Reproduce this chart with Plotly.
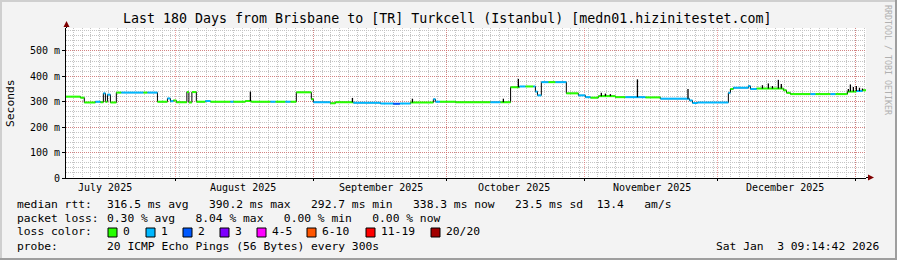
import bisect
import pandas as pd
import plotly.graph_objects as go

# ---------------- data ----------------
# step series of the median RTT (ms): start time of each level, level, loss class index
seg_time = [
    "2025-07-07 09:14", "2025-07-10 15:00", "2025-07-11 12:00", "2025-07-14 00:00",
    "2025-07-15 03:00", "2025-07-15 19:00", "2025-07-16 06:00", "2025-07-16 17:00",
    "2025-07-17 09:00", "2025-07-18 17:00", "2025-07-19 20:00", "2025-07-24 19:00",
    "2025-07-25 17:00", "2025-07-27 23:00", "2025-07-30 05:00", "2025-07-30 21:00",
    "2025-07-31 13:00", "2025-08-01 05:00", "2025-08-03 14:00", "2025-08-04 01:00",
    "2025-08-04 17:00", "2025-08-05 17:00", "2025-08-07 18:00", "2025-08-08 21:00",
    "2025-08-13 09:00", "2025-08-14 01:00", "2025-08-16 18:00", "2025-08-18 02:00",
    "2025-08-22 09:00", "2025-08-23 12:00", "2025-08-25 18:00", "2025-08-26 21:00",
    "2025-08-28 05:00", "2025-08-31 14:00", "2025-09-01 01:00", "2025-09-04 21:00",
    "2025-09-06 00:00", "2025-09-10 01:00", "2025-09-16 03:00", "2025-09-19 00:00",
    "2025-09-20 12:00", "2025-09-22 21:00", "2025-09-28 01:00", "2025-09-28 12:00",
    "2025-09-29 12:00", "2025-10-03 00:00", "2025-10-10 21:00", "2025-10-13 03:00",
    "2025-10-15 10:00", "2025-10-17 10:00", "2025-10-18 18:00", "2025-10-20 13:00",
    "2025-10-21 00:00", "2025-10-21 11:00", "2025-10-22 08:00", "2025-10-23 22:00",
    "2025-10-25 12:00", "2025-10-27 23:00", "2025-10-30 16:00", "2025-11-01 06:00",
    "2025-11-02 09:00", "2025-11-04 04:00", "2025-11-08 00:00", "2025-11-10 06:00",
    "2025-11-13 04:00", "2025-11-14 18:00", "2025-11-18 03:00", "2025-11-24 16:00",
    "2025-11-25 08:00", "2025-11-26 11:00", "2025-12-03 10:00", "2025-12-03 21:00",
    "2025-12-04 13:00", "2025-12-07 22:00", "2025-12-08 09:00", "2025-12-09 18:00",
    "2025-12-15 19:00", "2025-12-16 12:00", "2025-12-17 09:00", "2025-12-21 21:00",
    "2025-12-23 00:00", "2025-12-26 09:00", "2025-12-27 12:00", "2025-12-30 05:00",
    "2026-01-01 05:00", "2026-01-02 14:00",
]
seg_ms = [
    320, 316, 297, 300, 298, 333, 300, 328,
    297, 336, 336, 336, 336, 300, 313, 302,
    305, 298, 338, 297, 338, 300, 303, 300,
    300, 300, 303, 300, 300, 300, 300, 300,
    337, 310, 298, 294, 298, 296, 293, 292,
    293, 297, 310, 300, 300, 298, 298, 298,
    357, 360, 360, 360, 340, 325, 377, 377,
    377, 333, 325, 318, 316, 322, 318, 318,
    318, 317, 312, 305, 295, 297, 335, 350,
    355, 362, 350, 352, 345, 335, 330, 330,
    330, 330, 330, 340, 342, 345,
]
seg_loss = [
    0, 0, 0, 1, 0, 1, 0, 1,
    0, 0, 1, 0, 1, 0, 1, 1,
    0, 0, 0, 0, 0, 0, 1, 0,
    1, 0, 0, 0, 1, 0, 1, 0,
    0, 0, 1, 0, 0, 1, 1, 2,
    1, 0, 1, 1, 0, 0, 1, 0,
    0, 1, 0, 1, 1, 1, 1, 0,
    1, 0, 1, 1, 0, 0, 0, 1,
    1, 0, 1, 1, 1, 1, 1, 0,
    1, 1, 1, 0, 0, 0, 0, 1,
    0, 1, 0, 0, 1, 0,
]
end_time = "2026-01-03 09:14"

# short spikes (smoke) drawn in black
spike_time = [
    "2025-08-17 21:00", "2025-09-09 20:00", "2025-09-23 08:00", "2025-10-13 19:00",
    "2025-10-17 04:00", "2025-11-04 20:00", "2025-11-05 18:00", "2025-11-06 21:00",
    "2025-11-12 23:00", "2025-11-24 08:00", "2025-12-11 02:00", "2025-12-12 10:00",
    "2025-12-13 08:00", "2025-12-14 16:00", "2025-12-15 08:00", "2025-12-30 10:00",
    "2025-12-30 21:00", "2025-12-31 13:00", "2026-01-01 05:00", "2026-01-01 22:00",
    "2026-01-02 14:00",
]
spike_ms = [
    340, 315, 312, 312,
    390, 335, 332, 330,
    388, 350, 365, 372,
    362, 386, 370, 350,
    368, 358, 362, 355,
    352,
]

range_start = "2025-07-07 09:14"
range_end = "2026-01-03 09:14"
month_starts = ["2025-08-01", "2025-09-01", "2025-10-01", "2025-11-01", "2025-12-01", "2026-01-01"]
month_label_at = ["2025-07-16 06:00", "2025-08-16 06:00", "2025-09-16 06:00",
                  "2025-10-16 06:00", "2025-11-16 06:00", "2025-12-16 06:00"]
month_labels = ["July 2025", "August 2025", "September 2025",
                "October 2025", "November 2025", "December 2025"]
y_ticks = [0, 100, 200, 300, 400, 500]
y_tick_labels = ["0", "100 m", "200 m", "300 m", "400 m", "500 m"]
y_max = 590

loss_labels = ["0", "1", "2", "3", "4-5", "6-10", "11-19", "20/20"]
loss_colors = ["#26ff00", "#00b8ff", "#0059ff", "#7e00ff", "#ff00ff", "#ff5500", "#ff0000", "#a10000"]

title = "Last 180 Days from Brisbane to [TR] Turkcell (Istanbul) [medn01.hizinitestet.com]"
legend_rows = [
    ("median rtt:", "316.5 ms avg   390.2 ms max   292.7 ms min   338.3 ms now   23.5 ms sd  13.4   am/s"),
    ("packet loss:", "0.30 % avg   8.04 % max   0.00 % min   0.00 % now"),
    ("loss color:", ""),
    ("probe:", "20 ICMP Echo Pings (56 Bytes) every 300s"),
]
stamp = "Sat Jan  3 09:14:42 2026"
side_text = "RRDTOOL / TOBI OETIKER"

# ---------------- geometry ----------------
W, H = 897, 260
L, R, T, B = 66, 31, 28, 82
PW, PH = W - L - R, H - T - B
MONO = "DejaVu Sans Mono"


def px(x):
    return (x - L) / PW


def py(y):
    return (H - B - y) / PH


def nb(s):
    return s.replace(" ", "\u00a0")


# ---------------- traces ----------------
t_all = pd.to_datetime(seg_time + [end_time])
v_all = seg_ms + [seg_ms[-1]]

fig = go.Figure()
fig.add_trace(go.Scatter(x=t_all, y=v_all, mode="lines", line=dict(color="#000000", width=1, shape="hv"),
                         hoverinfo="skip", showlegend=False))

for k in sorted(set(seg_loss)):
    xs, ys = [], []
    for i, lk in enumerate(seg_loss):
        if lk == k:
            xs += [t_all[i], t_all[i + 1], None]
            ys += [seg_ms[i], seg_ms[i], None]
    fig.add_trace(go.Scatter(x=xs, y=ys, mode="lines", line=dict(color=loss_colors[k], width=2),
                             hoverinfo="skip", showlegend=False))

seg_dt = list(pd.to_datetime(seg_time))
sx, sy = [], []
for t, v in zip(pd.to_datetime(spike_time), spike_ms):
    i = bisect.bisect_right(seg_dt, t) - 1
    sx += [t, t, None]
    sy += [seg_ms[i], v, None]
fig.add_trace(go.Scatter(x=sx, y=sy, mode="lines", line=dict(color="#000000", width=1.3),
                         hoverinfo="skip", showlegend=False))

# ---------------- layout ----------------
major_grid = "rgba(222,79,79,0.55)"
minor_grid = "#c4c4c4"

fig.update_layout(
    width=W, height=H,
    margin=dict(l=L, r=R, t=T, b=B, pad=0),
    paper_bgcolor="#f3f3f3", plot_bgcolor="#ffffff",
    font=dict(family=MONO, size=10, color="#000000"),
    showlegend=False,
    xaxis=dict(
        type="date", range=[range_start, range_end], fixedrange=True,
        tickmode="array", tickvals=month_starts, showticklabels=False,
        showgrid=True, gridcolor=major_grid, gridwidth=1, griddash="1px,1px",
        ticks="outside", ticklen=2, tickcolor="#000000",
        showline=True, linecolor="#000000", linewidth=1, zeroline=False,
        minor=dict(tickmode="linear", tick0="2025-08-04", dtick=2 * 86400000,
                   showgrid=True, gridcolor=minor_grid, griddash="1px,1px", gridwidth=1, ticks=""),
    ),
    yaxis=dict(
        range=[0, y_max], fixedrange=True,
        tickmode="array", tickvals=y_ticks, ticktext=y_tick_labels,
        tickfont=dict(family=MONO, size=10),
        showgrid=True, gridcolor=major_grid, gridwidth=1, griddash="1px,1px",
        ticks="outside", ticklen=3, tickcolor="#000000",
        showline=True, linecolor="#000000", linewidth=1, zeroline=False,
        minor=dict(tickmode="linear", tick0=0, dtick=20,
                   showgrid=True, gridcolor=minor_grid, griddash="1px,1px", gridwidth=1, ticks=""),
    ),
)

ann = []
# month labels under the axis
for pos, lab in zip(month_label_at, month_labels):
    ann.append(dict(x=pos, y=0, xref="x", yref="y", text=nb(lab), showarrow=False,
                    xanchor="center", yanchor="top", yshift=-3, borderpad=0,
                    font=dict(family=MONO, size=10)))
# title
ann.append(dict(x=px(447), y=py(19), xref="paper", yref="paper", text=nb(title), showarrow=False,
                xanchor="center", yanchor="middle", borderpad=0, font=dict(family=MONO, size=13.3)))
# y axis title
ann.append(dict(x=px(10), y=py(103), xref="paper", yref="paper", text="Seconds", showarrow=False,
                textangle=-90, xanchor="center", yanchor="middle", borderpad=0,
                font=dict(family=MONO, size=11.3)))
# side text
ann.append(dict(x=px(888), y=py(60), xref="paper", yref="paper", text=nb(side_text), showarrow=False,
                textangle=90, xanchor="center", yanchor="middle", borderpad=0,
                font=dict(family=MONO, size=8.3, color="#b0b0b0")))
# legend rows
row_y = [204, 218, 232, 246]
for (lab, rest), yy in zip(legend_rows, row_y):
    ann.append(dict(x=px(16), y=py(yy), xref="paper", yref="paper", text=nb(lab), showarrow=False,
                    xanchor="left", yanchor="middle", borderpad=0, font=dict(family=MONO, size=11.3)))
    if rest:
        ann.append(dict(x=px(106), y=py(yy), xref="paper", yref="paper", text=nb(rest), showarrow=False,
                        xanchor="left", yanchor="middle", borderpad=0, font=dict(family=MONO, size=11.3)))
ann.append(dict(x=px(880), y=py(246), xref="paper", yref="paper", text=nb(stamp), showarrow=False,
                xanchor="right", yanchor="middle", borderpad=0, font=dict(family=MONO, size=11.3)))

shapes = []
# loss colour swatches
sq_x = [108, 146, 183, 220, 257, 307, 366, 431]
for x0, lab, col in zip(sq_x, loss_labels, loss_colors):
    shapes.append(dict(type="rect", xref="paper", yref="paper", x0=px(x0), x1=px(x0 + 9),
                       y0=py(237), y1=py(228), fillcolor=col, line=dict(color="#000000", width=1)))
    ann.append(dict(x=px(x0 + 14), y=py(232), xref="paper", yref="paper", text=nb(lab), showarrow=False,
                    xanchor="left", yanchor="middle", borderpad=0, font=dict(family=MONO, size=11.3)))

# axis extensions and arrows
shapes.append(dict(type="line", xref="paper", yref="paper", x0=px(66.5), x1=px(66.5), y0=1, y1=py(25),
                   line=dict(color="#000000", width=1)))
shapes.append(dict(type="path", xref="paper", yref="paper",
                   path=f"M {px(66.5)} {py(21)} L {px(63.5)} {py(27)} L {px(69.5)} {py(27)} Z",
                   fillcolor="#7f0000", line=dict(color="#7f0000", width=0)))
shapes.append(dict(type="line", xref="paper", yref="paper", x0=1, x1=px(869), y0=py(177.5), y1=py(177.5),
                   line=dict(color="#000000", width=1)))
shapes.append(dict(type="path", xref="paper", yref="paper",
                   path=f"M {px(874)} {py(177.5)} L {px(868)} {py(174.5)} L {px(868)} {py(180.5)} Z",
                   fillcolor="#7f0000", line=dict(color="#7f0000", width=0)))

# 3D frame
frame = [
    (0, W, 0, 2, "#cfcfcf"), (0, 2, 0, H, "#cfcfcf"),
    (0, W, H - 2, H, "#9e9e9e"), (W - 2, W, 0, H, "#9e9e9e"),
]
for x0, x1, y0, y1, col in frame:
    shapes.append(dict(type="rect", xref="paper", yref="paper", x0=px(x0), x1=px(x1),
                       y0=py(y1), y1=py(y0), fillcolor=col, line=dict(width=0)))

fig.update_layout(annotations=ann, shapes=shapes)
fig.write_html("out.html", config={"displayModeBar": False})
